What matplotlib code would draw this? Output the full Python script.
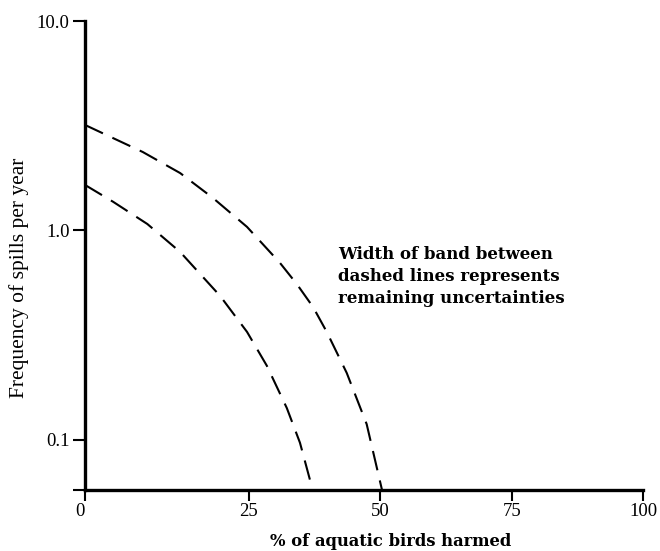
import numpy as np
import matplotlib
matplotlib.use("Agg")
import matplotlib.pyplot as plt
from matplotlib.ticker import NullLocator

# valores
x_superior = [0, 8.8, 14.5, 19.5, 24.7, 30.9, 34.1, 37.2, 39.8, 43.6, 47.4, 50.3]
y_superior = [3.19, 2.37, 1.88, 1.43, 1.04, 0.70, 0.555, 0.431, 0.328, 0.209, 0.119, 0.058]

x_inferior = [0, 4.3, 9.5, 14.5, 20.6, 24.7, 28.4, 32.2, 34.7, 37.1]
y_inferior = [1.65, 1.37, 1.074, 0.79, 0.487, 0.328, 0.226, 0.142, 0.097, 0.058]

x_ticks = [0, 25, 50, 75, 100]
x_tick_labels = ["0", "25", "50", "75", "100"]
y_piso = 0.0577
y_ticks = [y_piso, 0.1, 1.0, 10.0]
y_tick_labels = ["", "0.1", "1.0", "10.0"]

# el eje x original no es uniforme (tramo 0-25 mas ancho)
x_quiebre = [0, 25, 100]
x_pos = [0, 164, 558]


def adelante(x):
    return np.interp(x, x_quiebre, x_pos)


def inversa(p):
    return np.interp(p, x_pos, x_quiebre)


serif = "Liberation Serif"

fig = plt.figure(figsize=(6.6, 5.51), dpi=100)
ax = fig.add_axes([85 / 660, 1 - 490 / 551, 558 / 660, 469 / 551])

for xs, ys in [(x_superior, y_superior), (x_inferior, y_inferior)]:
    linea, = ax.plot(xs, ys, color="black", lw=1.5, solid_capstyle="butt")
    linea.set_dashes((9.5, 5))

ax.set_xscale("function", functions=(adelante, inversa))
ax.set_yscale("log")
ax.set_xlim(0, 100)
ax.set_ylim(y_piso, 10)

ax.set_xticks(x_ticks)
ax.set_xticklabels(x_tick_labels, fontfamily=serif, fontsize=13.5)
ax.xaxis.get_majorticklabels()[0].set_horizontalalignment("right")
ax.set_yticks(y_ticks)
ax.set_yticklabels(y_tick_labels, fontfamily=serif, fontsize=13.5)
ax.yaxis.set_minor_locator(NullLocator())
ax.xaxis.set_minor_locator(NullLocator())

ax.tick_params(axis="y", direction="out", length=9, width=1.5, pad=2)
ax.tick_params(axis="x", direction="out", length=8, width=1.5, pad=1)

for lado in ["top", "right"]:
    ax.spines[lado].set_visible(False)
for lado in ["left", "bottom"]:
    ax.spines[lado].set_linewidth(2.4)

ax.set_ylabel("Frequency of spills per year", fontfamily=serif, fontsize=15.5)
ax.yaxis.set_label_coords(-66 / 558, (490 - 278) / 469)
ax.yaxis.label.set_verticalalignment("center")
ax.set_xlabel("% of aquatic birds harmed", fontfamily="DejaVu Serif", fontweight="bold", fontsize=11.8)
ax.xaxis.set_label_coords((391 - 85) / 558, -(542 - 490) / 469)
ax.xaxis.label.set_verticalalignment("center")

ax.text((338 - 85) / 558, (490 - 246) / 469,
        "Width of band between\ndashed lines represents\nremaining uncertainties",
        transform=ax.transAxes, ha="left", va="top", fontfamily="DejaVu Serif",
        fontweight="bold", fontsize=12, linespacing=1.38)

fig.savefig("out.png", dpi=100, facecolor="white")
